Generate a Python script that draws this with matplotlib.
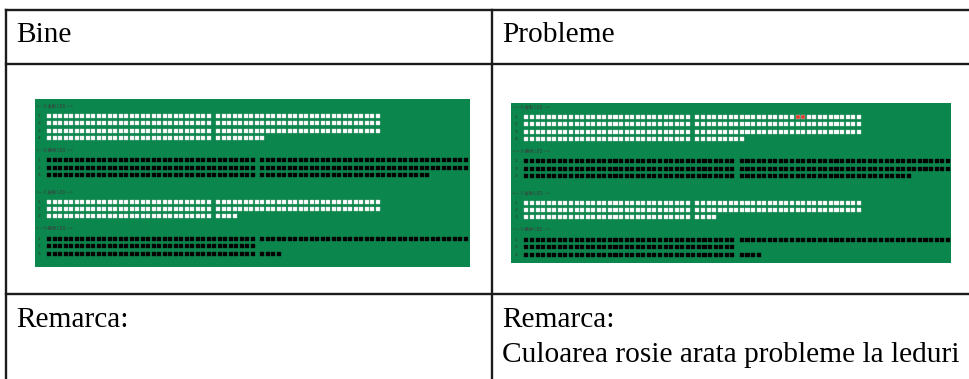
#!/usr/bin/env python3
"""
Comparatie panou LED: bine vs probleme
"""

import matplotlib.pyplot as plt

# Table text
col_titles = ['Bine', 'Probleme']
remark_title = 'Remarca:'
remark_right = 'Culoarea rosie arata probleme la leduri'

# LED panel sections: name, LED colour, LEDs per row (group 1, group 2)
section_names = ['X-发射 LED', 'X-接收 LED', 'Y-发射 LED', 'Y-接收 LED']
section_colors = ['white', 'black', 'white', 'black']
x_emit_counts = [(30, 30), (30, 30), (30, 30), (30, 9)]
x_recv_counts = [(38, 38), (38, 38), (38, 31)]
y_emit_counts = [(30, 30), (30, 30), (30, 4)]
y_recv_counts = [(38, 38), (38, 0), (38, 4)]
section_counts = [x_emit_counts, x_recv_counts, y_emit_counts, y_recv_counts]

# faulty LEDs on the right panel: (section, row, group, index)
fault_leds = [(0, 0, 1, 18), (0, 0, 1, 19)]

# layout (panel units ~ pixels of left screenshot)
PITCH = 5.5
SQ = 4.0
X0 = 14.3
GAP = 4.0
label_y = [6.7, 51, 92.7, 129.3]
row_y = [[16.7, 24, 31.7, 39.3], [61.3, 68.7, 76.3],
         [102.7, 110, 117.3], [140, 147.3, 155]]

GREEN = '#0b874d'
RED = '#e3342b'
CJK = ['Noto Sans CJK SC', 'DejaVu Sans']

W, H = 969, 379
fig = plt.figure(figsize=(W / 100, H / 100), dpi=100)
ax = fig.add_axes([0, 0, 1, 1])
ax.set_xlim(0, W)
ax.set_ylim(H, 0)
ax.axis('off')

# table grid
lc = '#1c1c1c'
lw = 1.7
ax.plot([6, W], [10, 10], color=lc, lw=lw)
ax.plot([6, W], [64, 64], color=lc, lw=lw)
ax.plot([6, W], [294, 294], color=lc, lw=lw)
ax.plot([6, 6], [10, H], color=lc, lw=lw)
ax.plot([492, 492], [10, H], color=lc, lw=lw)

serif = 'Liberation Serif'
fs = 21.2
ax.text(16, 42, col_titles[0], fontsize=fs, family=serif, va='baseline')
ax.text(502, 42, col_titles[1], fontsize=fs, family=serif, va='baseline')
ax.text(16, 327, remark_title, fontsize=fs, family=serif, va='baseline')
ax.text(502, 327, remark_title, fontsize=fs, family=serif, va='baseline')
ax.text(502, 362, remark_right, fontsize=fs, family=serif, va='baseline')


def draw_panel(rect, xlim, ylim, faults):
    pax = fig.add_axes(rect)
    pax.set_facecolor(GREEN)
    pax.set_xlim(*xlim)
    pax.set_ylim(*ylim)
    pax.set_xticks([])
    pax.set_yticks([])
    for s in pax.spines.values():
        s.set_visible(False)

    for si, name in enumerate(section_names):
        pax.text(1, label_y[si], '<— ' + name + ' —>', fontsize=3.2,
                 family=CJK, color='#3c3c3c', va='center', ha='left')
        for ri, (n1, n2) in enumerate(section_counts[si]):
            y = row_y[si][ri]
            pax.text(2.5, y, str(ri + 1), fontsize=3.2, color='#333333',
                     va='center', ha='left')
            xs, cols = [], []
            for gi, n in enumerate((n1, n2)):
                start = X0 + gi * (n1 * PITCH + GAP)
                for k in range(n):
                    xs.append(start + k * PITCH)
                    if (si, ri, gi, k) in faults:
                        cols.append(RED)
                    else:
                        cols.append(section_colors[si])
            edge = '#c8d8cc' if section_colors[si] == 'white' else '#101010'
            pax.bar(xs, SQ, width=SQ, bottom=y - SQ / 2, color=cols,
                    edgecolor=edge, linewidth=0.3)


draw_panel([35 / W, 1 - 267 / H, 435 / W, 168 / H], (0, 435), (168, 0), [])
draw_panel([511 / W, 1 - 263 / H, 440 / W, 160 / H], (-1, 434), (163, 3),
           fault_leds)

plt.savefig('out.png', dpi=100)
